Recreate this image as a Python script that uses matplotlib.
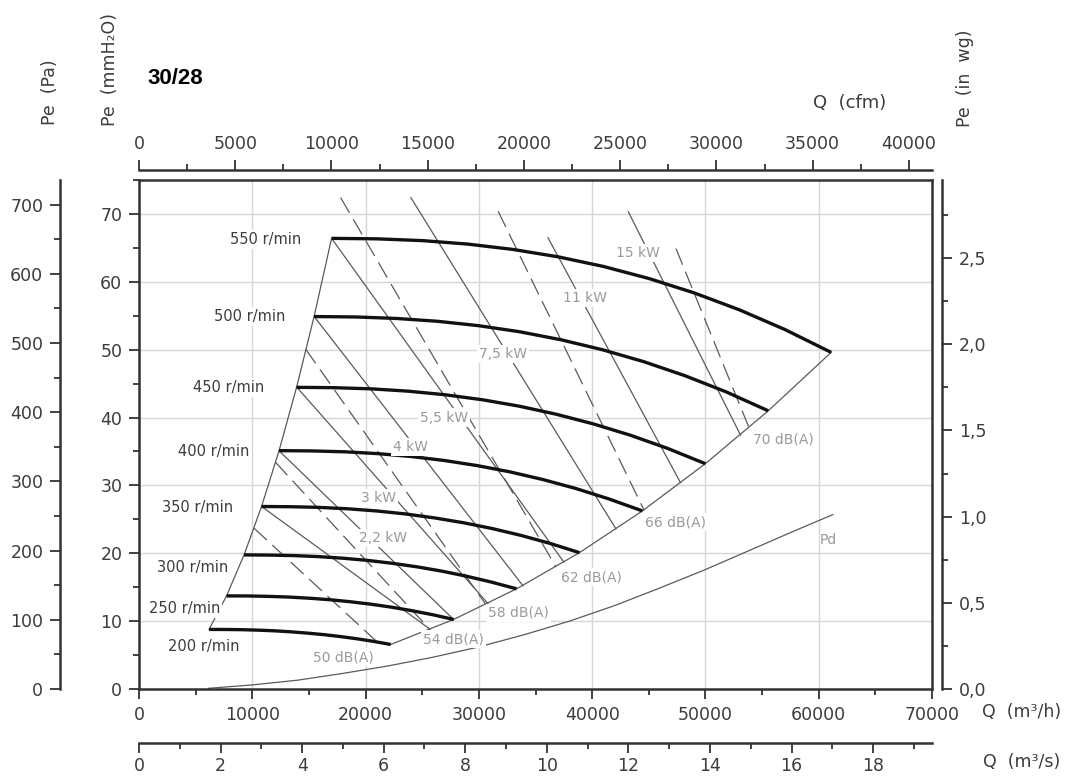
'''
Fan performance chart 30/28
'''

import matplotlib.pyplot as plt
from matplotlib.ticker import MultipleLocator, FuncFormatter

# fan curves: Q in m3/h, Pe in mmH2O
speeds = [550, 500, 450, 400, 350, 300, 250, 200]

q_550 = [17000, 21000, 25000, 29000, 33000, 37000, 41000, 45000, 49000, 53000, 57000, 61100]
p_550 = [66.40, 66.33, 66.07, 65.56, 64.77, 63.68, 62.26, 60.49, 58.37, 55.87, 52.98, 49.60]
q_500 = [15455, 19091, 22727, 26364, 30000, 33636, 37273, 40909, 44545, 48182, 51818, 55545]
p_500 = [54.88, 54.82, 54.60, 54.18, 53.53, 52.63, 51.45, 49.99, 48.24, 46.17, 43.79, 40.99]
q_450 = [13909, 17182, 20455, 23727, 27000, 30273, 33545, 36818, 40091, 43364, 46636, 49991]
p_450 = [44.45, 44.40, 44.23, 43.89, 43.36, 42.63, 41.68, 40.49, 39.07, 37.40, 35.47, 33.20]
q_400 = [12364, 15273, 18182, 21091, 24000, 26909, 29818, 32727, 35636, 38545, 41455, 44436]
p_400 = [35.12, 35.08, 34.95, 34.68, 34.26, 33.68, 32.93, 32.00, 30.87, 29.55, 28.02, 26.24]
q_350 = [10818, 13364, 15909, 18455, 21000, 23545, 26091, 28636, 31182, 33727, 36273, 38882]
p_350 = [26.89, 26.86, 26.76, 26.55, 26.23, 25.79, 25.21, 24.50, 23.64, 22.63, 21.46, 20.09]
q_300 = [9273, 11455, 13636, 15818, 18000, 20182, 22364, 24545, 26727, 28909, 31091, 33327]
p_300 = [19.76, 19.73, 19.66, 19.51, 19.27, 18.95, 18.52, 18.00, 17.37, 16.62, 15.76, 14.76]
q_250 = [7727, 9545, 11364, 13182, 15000, 16818, 18636, 20455, 22273, 24091, 25909, 27773]
p_250 = [13.72, 13.71, 13.65, 13.55, 13.38, 13.16, 12.86, 12.50, 12.06, 11.54, 10.95, 10.25]
q_200 = [6182, 7636, 9091, 10545, 12000, 13455, 14909, 16364, 17818, 19273, 20727, 22218]
p_200 = [8.78, 8.77, 8.74, 8.67, 8.57, 8.42, 8.23, 8.00, 7.72, 7.39, 7.01, 6.56]

curves_q = [q_550, q_500, q_450, q_400, q_350, q_300, q_250, q_200]
curves_p = [p_550, p_500, p_450, p_400, p_350, p_300, p_250, p_200]

# dynamic pressure curve
pd_q = [6130, 10000, 14000, 18000, 22000, 26000, 30000, 34000, 38000,
        42000, 46000, 50000, 54000, 58000, 61250]
pd_p = [0.1, 0.6, 1.3, 2.3, 3.4, 4.7, 6.2, 8.0, 10.0, 12.3, 14.9, 17.6, 20.5, 23.4, 25.7]

# power lines (solid) start/end
kw_labels = ['15 kW', '11 kW', '7,5 kW', '5,5 kW', '4 kW', '3 kW', '2,2 kW']
kw_q = [(43200, 53100), (36100, 47800), (24000, 42100), (17000, 37500),
        (15455, 33900), (13909, 30800), (12364, 27800), (10818, 25700)]
kw_p = [(70.3, 37.4), (66.5, 30.4), (72.4, 23.6), (66.4, 18.7),
        (54.9, 15.2), (44.5, 12.6), (35.1, 10.2), (26.9, 8.8)]
kw_label_q = [44000, 39350, 32100, 26900, 23950, 21150, 21500]
kw_label_p = [64.3, 57.6, 49.4, 40.0, 35.7, 28.2, 22.2]

# dashed lines start/end
dash_q = [(17800, 36800), (31700, 44600), (47400, 53800),
          (14700, 30600), (12050, 25600), (10150, 21500)]
dash_p = [(72.4, 18.0), (70.4, 26.3), (64.9, 38.7),
          (50.1, 12.5), (33.4, 8.9), (23.7, 6.2)]

# noise labels
db_labels = ['50 dB(A)', '54 dB(A)', '58 dB(A)', '62 dB(A)', '66 dB(A)', '70 dB(A)']
db_q = [18050, 27750, 33500, 39900, 47400, 56850]
db_p = [4.7, 7.35, 11.2, 16.5, 24.6, 36.8]

# speed label positions
rpm_q = [11150, 9800, 7950, 6550, 5150, 4700, 4000, 5750]
rpm_p = [66.3, 54.9, 44.4, 35.0, 26.8, 17.9, 11.8, 6.2]

W, H = 1073, 778
LINE = '#5a5a5a'
TXT = '#3c3c3c'
LIGHT = '#9a9a9a'


def main():
    plt.rcParams.update({'font.family': 'DejaVu Sans', 'font.size': 11})
    fig = plt.figure(figsize=(W / 100, H / 100), dpi=100)
    ax = fig.add_axes([139 / W, 1 - 689 / H, 793 / W, 509 / H])
    ax.set_xlim(0, 70000)
    ax.set_ylim(0, 75)

    ax.xaxis.set_major_locator(MultipleLocator(10000))
    ax.xaxis.set_minor_locator(MultipleLocator(5000))
    ax.yaxis.set_major_locator(MultipleLocator(10))
    ax.yaxis.set_minor_locator(MultipleLocator(5))
    ax.tick_params(which='both', direction='out', width=1.3, colors='#333',
                   labelcolor=TXT, labelsize=12.5)
    ax.tick_params(which='major', length=7, pad=5)
    ax.tick_params(which='minor', length=4)
    ax.xaxis.set_major_formatter(FuncFormatter(lambda v, p: f'{v:.0f}'))
    ax.grid(which='major', color='#d6d6d6', lw=1.0, zorder=0)
    for s in ax.spines.values():
        s.set_linewidth(1.8)
        s.set_color('#333')

    # boundaries
    ax.plot([c[0] for c in curves_q], [c[0] for c in curves_p], color=LINE, lw=0.9, zorder=2)
    ax.plot([c[-1] for c in curves_q], [c[-1] for c in curves_p], color=LINE, lw=0.9, zorder=2)

    for (q0, q1), (p0, p1) in zip(kw_q, kw_p):
        ax.plot([q0, q1], [p0, p1], color=LINE, lw=0.9, zorder=2)
    for (q0, q1), (p0, p1) in zip(dash_q, dash_p):
        ax.plot([q0, q1], [p0, p1], color=LINE, lw=0.9, ls=(0, (14, 6)), zorder=2)

    ax.plot(pd_q, pd_p, color=LINE, lw=0.9, zorder=2)

    for q, p in zip(curves_q, curves_p):
        ax.plot(q, p, color='#111', lw=2.4, solid_capstyle='butt',
                solid_joinstyle='round', zorder=3)

    box = dict(facecolor='white', edgecolor='none', pad=1.5)
    for n, x, y in zip(speeds, rpm_q, rpm_p):
        ax.text(x, y, f'{n} r/min', ha='center', va='center', fontsize=10.5,
                color=TXT, bbox=box, zorder=4)
    for t, x, y in zip(kw_labels, kw_label_q, kw_label_p):
        ax.text(x, y, t, ha='center', va='center', fontsize=10,
                color=LIGHT, bbox=box, zorder=4)
    for t, x, y in zip(db_labels, db_q, db_p):
        ax.text(x, y, t, ha='center', va='center', fontsize=10,
                color=LIGHT, bbox=box, zorder=4)
    ax.text(60830, 21.9, 'Pd', ha='center', va='center', fontsize=10,
            color=LIGHT, zorder=4)

    # extra scales
    def style(sec, pad=5):
        sec.tick_params(which='both', direction='out', width=1.3, colors='#333',
                        labelcolor=TXT, labelsize=12.5)
        sec.tick_params(which='major', length=7, pad=pad)
        sec.tick_params(which='minor', length=4)
        for s in sec.spines.values():
            s.set_linewidth(1.8)
            s.set_color('#333')

    pa = ax.secondary_yaxis((60 - 139) / 793,
                            functions=(lambda m: m * 9.80665, lambda v: v / 9.80665))
    pa.yaxis.set_major_locator(MultipleLocator(100))
    pa.yaxis.set_minor_locator(MultipleLocator(50))
    pa.yaxis.set_major_formatter(FuncFormatter(lambda v, p: f'{v:.0f}'))
    style(pa)

    wg = ax.secondary_yaxis((942 - 139) / 793,
                            functions=(lambda m: m / 25.4, lambda v: v * 25.4))
    wg.yaxis.set_major_locator(MultipleLocator(0.5))
    wg.yaxis.set_minor_locator(MultipleLocator(0.25))
    wg.yaxis.set_major_formatter(FuncFormatter(lambda v, p: f'{v:.1f}'.replace('.', ',')))
    style(wg)

    cfm = ax.secondary_xaxis((689 - 170) / 509,
                             functions=(lambda q: q / 1.699, lambda c: c * 1.699))
    cfm.xaxis.set_major_locator(MultipleLocator(5000))
    cfm.xaxis.set_minor_locator(MultipleLocator(2500))
    cfm.xaxis.set_major_formatter(FuncFormatter(lambda v, p: f'{v:.0f}'))
    style(cfm)

    m3s = ax.secondary_xaxis((689 - 743) / 509,
                             functions=(lambda q: q / 3600, lambda s: s * 3600))
    m3s.xaxis.set_major_locator(MultipleLocator(2))
    m3s.xaxis.set_minor_locator(MultipleLocator(1))
    m3s.xaxis.set_major_formatter(
        FuncFormatter(lambda v, p: f'{v:.0f}' if v < 19 else ''))
    style(m3s, pad=3)

    # titles
    def ftext(x, y, s, **kw):
        fig.text(x / W, 1 - y / H, s, ha='center', va='center', color=TXT, **kw)

    ftext(50, 92, 'Pe  (Pa)', rotation=90, fontsize=12.5)
    ftext(110, 70, 'Pe  (mmH₂O)', rotation=90, fontsize=12.5)
    ftext(965, 78, 'Pe  (in  wg)', rotation=90, fontsize=12.5)
    ftext(850, 103, 'Q  (cfm)', fontsize=13)
    ftext(1022, 712, 'Q  (m³/h)', fontsize=12.5)
    ftext(1022, 762, 'Q  (m³/s)', fontsize=12.5)
    fig.text(147 / W, 1 - 78 / H, '30/28', ha='left', va='center',
             fontsize=16, fontweight='bold', family='Liberation Sans', color='black')

    fig.savefig('out.png', dpi=100)


if __name__ == '__main__':
    main()
